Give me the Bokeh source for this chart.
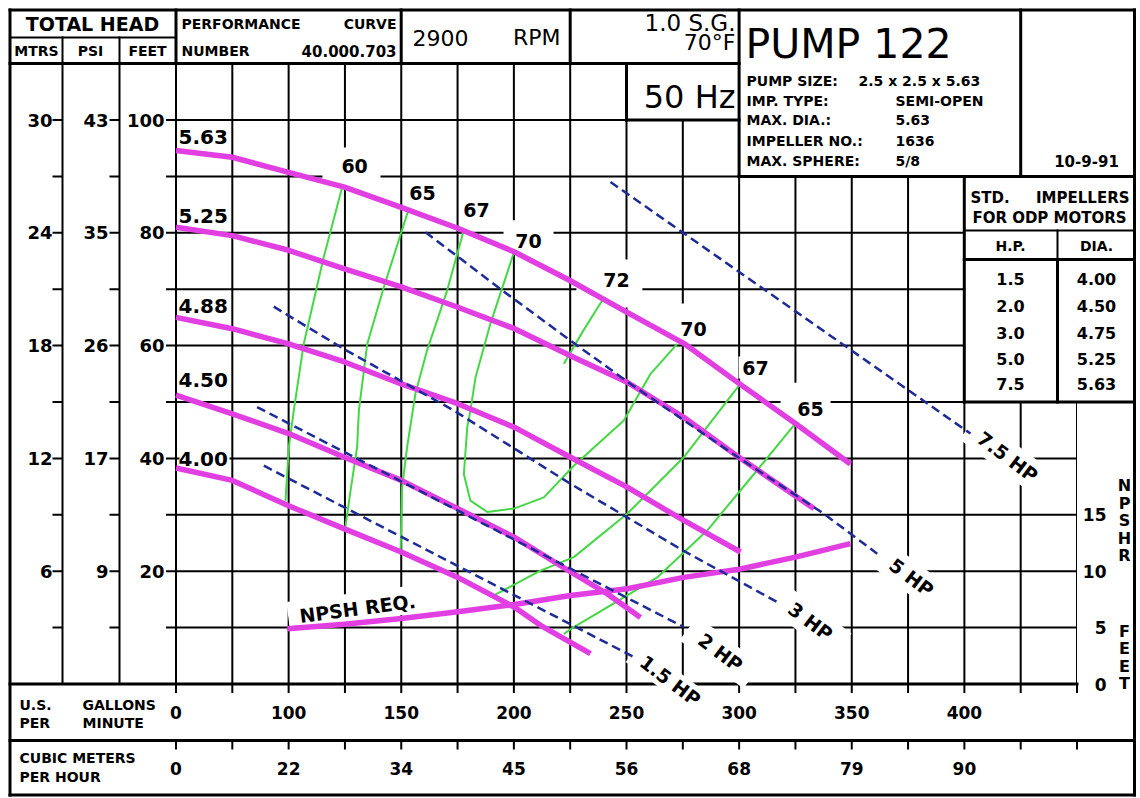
from bokeh.plotting import figure
from bokeh.models import Range1d, ColumnDataSource
from bokeh.core.properties import value
from bokeh.embed import file_html
from bokeh.resources import INLINE

# ---------------- chart data ----------------
# x = flow in grid units (one grid cell = 25); the sheet prints these labels
gpm_tick_pos = [0, 50, 100, 150, 200, 250, 300, 350]
gpm_tick_labels = ["0", "100", "150", "200", "250", "300", "350", "400"]
m3h_tick_labels = ["0", "22", "34", "45", "56", "68", "79", "90"]

head_ticks_ft = [20, 40, 60, 80, 100]
head_labels_ft = ["20", "40", "60", "80", "100"]
head_labels_m = ["6", "12", "18", "24", "30"]
head_labels_psi = ["9", "17", "26", "35", "43"]

npsh_ticks = [0, 5, 10, 15]
npsh_labels = ["0", "5", "10", "15"]

# impeller curves: head in feet
imp_563_x = [0, 25, 50, 74.8, 100, 125.1, 150.3, 175.1, 200.3, 225.4, 249.9, 275.0, 299.4]
imp_563_h = [94.6, 93.4, 90.7, 88.1, 84.5, 80.8, 76.6, 71.5, 65.9, 60.4, 53.3, 46.2, 39.0]
imp_525_x = [0, 25, 50, 74.8, 100, 125.1, 150.3, 175.1, 200.3, 225.4, 249.9, 283.2]
imp_525_h = [81.0, 79.5, 76.9, 73.6, 70.4, 66.8, 63.0, 58.2, 53.5, 47.3, 40.2, 31.1]
imp_488_x = [0, 25, 50, 74.8, 100, 125.1, 150.3, 175.1, 200.3, 225.4, 250.6]
imp_488_h = [65.0, 63.0, 60.3, 57.1, 53.2, 49.7, 45.5, 40.2, 34.9, 29.0, 23.4]
imp_450_x = [0, 25, 50, 74.8, 100, 125.1, 150.3, 175.1, 191.4, 206.2]
imp_450_h = [51.2, 47.9, 44.4, 40.2, 36.1, 31.1, 26.0, 19.9, 16.0, 11.8]
imp_400_x = [0, 25, 50, 74.8, 100, 125.1, 150.3, 161.8, 184.0]
imp_400_h = [38.3, 36.1, 31.6, 27.5, 23.4, 18.9, 13.6, 10.4, 5.4]
imp_names = ["5.63", "5.25", "4.88", "4.50", "4.00"]
imp_label_x = [1.1, 1.1, 1.1, 1.1, 1.1]
imp_label_y = [96.9, 83.0, 67.1, 53.9, 39.9]

# NPSH required (feet, right scale)
npsh_x = [49.4, 74.8, 100, 125.1, 150.3, 175.1, 200.3, 225.4, 250.6, 275.0, 299.4]
npsh_req = [4.9, 5.3, 5.8, 6.4, 7.05, 7.85, 8.45, 9.45, 10.2, 11.25, 12.45]

# iso-efficiency lines (%)
eff60_x = [73.8, 65.6, 56.7, 52.3, 50.1, 48.6]
eff60_h = [88.1, 75.7, 60.3, 48.5, 42.0, 32.5]
eff65a_x = [102.9, 92.3, 84.9, 81.2, 80.4, 77.5, 75.2]
eff65a_h = [83.7, 70.4, 60.3, 48.5, 42.0, 34.3, 27.8]
eff67a_x = [127.5, 120.4, 111.5, 106.3, 102.6, 100.4, 99.7]
eff67a_h = [80.1, 69.8, 59.2, 51.5, 42.0, 34.9, 23.6]
eff70_x = [150.0, 139.6, 133.0, 130.7, 129.3, 127.8, 130.7, 138.2, 150.0, 163.3, 176.6, 198.8, 210.7, 222.5]
eff70_h = [76.5, 63.9, 54.4, 48.5, 45.5, 37.2, 32.5, 30.5, 31.1, 33.1, 38.7, 46.7, 55.0, 60.3]
eff72_x = [189.2, 180.9, 172.2]
eff72_h = [68.0, 62.7, 56.8]
eff67b_x = [249.9, 225.4, 210.7, 200.3, 176.6, 161.8, 139.6]
eff67b_h = [52.9, 40.2, 34.3, 30.2, 22.5, 20.1, 15.4]
eff65b_x = [275.0, 258.0, 235.8, 213.6, 191.4, 176.6, 172.2]
eff65b_h = [46.2, 37.9, 27.2, 18.9, 13.6, 10.1, 8.9]
eff_labels = ["60", "65", "67", "70", "72", "70", "67", "65"]
eff_label_x = [79.3, 109.4, 133.4, 156.5, 195.6, 229.7, 257.3, 281.7]
eff_label_y = [91.8, 87.0, 84.0, 78.5, 71.7, 63.0, 56.1, 48.7]

# motor horsepower limit lines
hp75_x = [192.9, 352.7]
hp75_h = [89.0, 44.4]
hp5_x = [110.8, 144.8, 175.1, 201.8, 250.6, 287.6, 311.3]
hp5_h = [80.1, 69.8, 60.9, 53.2, 39.9, 30.2, 23.1]
hp3_x = [43.4, 74.5, 123.3, 175.1, 225.4, 268.4]
hp3_h = [66.9, 59.4, 48.5, 35.5, 23.6, 14.2]
hp2_x = [36.0, 225.4]
hp2_h = [49.1, 10.1]
hp15_x = [39.0, 203.2]
hp15_h = [38.7, 4.8]
hp_labels = ["7.5 HP", "5 HP", "3 HP", "2 HP", "1.5 HP"]
hp_label_x = [369.2, 326.5, 281.7, 241.7, 219.5]
hp_label_y = [40.3, 18.9, 11.1, 5.6, 0.6]

std_hp = ["1.5", "2.0", "3.0", "5.0", "7.5"]
std_dia = ["4.00", "4.50", "4.75", "5.25", "5.63"]

pump_keys = ["IMP. TYPE:", "MAX. DIA.:", "IMPELLER NO.:", "MAX. SPHERE:"]
pump_vals = ["SEMI-OPEN", "5.63", "1636", "5/8"]

# ---------------- styles / layout ----------------
MAG = "#e23fe2"
GRN = "#45d845"
BLU = "#1d2b96"
FONT = "DejaVu Sans"

X0, SX = 175.5, 2.2525   # sheet pixel of flow 0, pixels per flow unit
Y0, SY = 683.5, 5.64     # sheet pixel of 0 ft, pixels per foot
RB, BB = 1134, 794.5     # right / bottom border of the sheet


def X(px):
    return (px - X0) / SX


def Y(py):
    return (Y0 - py) / SY


W, H = 1140, 798
p = figure(width=W, height=H,
           x_range=Range1d(X(0), X(W)), y_range=Range1d(Y(H), Y(0)),
           output_backend="svg", toolbar_location=None, min_border=0,
           x_axis_type=None, y_axis_type=None, title=None,
           background_fill_color="white", border_fill_color="white")
p.outline_line_color = None
p.extra_y_ranges = {"npsh": Range1d(Y(H) / 2, Y(0) / 2)}

# grid
grid_x = [25 * k for k in range(17)]
p.segment(x0=grid_x, y0=[0] * 17, x1=grid_x, y1=[110] * 17, line_color="black", line_width=2)
grid_y = [10 * k for k in range(1, 12)]
p.segment(x0=[0] * 11, y0=grid_y, x1=[400] * 11, y1=grid_y, line_color="black", line_width=2)

# white panels covering the grid
covers = [(626, 738.6, 63.1, 119.5), (738.6, RB, 9.5, 175.9),
          (963.8, RB, 175.9, 401.5), (1076.5, RB, 401.5, 683.5)]
p.quad(left=[X(c[0]) for c in covers], right=[X(c[1]) for c in covers],
       top=[Y(c[2]) for c in covers], bottom=[Y(c[3]) for c in covers],
       fill_color="white", line_color=None)


def segs(lines, width):
    p.segment(x0=[X(a) for a, b, c, d in lines], y0=[Y(b) for a, b, c, d in lines],
              x1=[X(c) for a, b, c, d in lines], y1=[Y(d) for a, b, c, d in lines],
              line_color="black", line_width=width, line_cap="square")


thick = [
    (9.5, 9.5, RB, 9.5), (9.5, BB, RB, BB),
    (9.5, 9.5, 9.5, BB), (RB, 9.5, RB, BB),
    (9.5, 63.1, 738.6, 63.1),
    (175.5, 9.5, 175.5, 63.1), (400.7, 9.5, 400.7, 63.1), (569.7, 9.5, 569.7, 63.1),
    (626, 63.1, 626, 119.5), (626, 119.5, 738.6, 119.5),
    (738.6, 9.5, 738.6, 175.9), (738.6, 175.9, RB, 175.9),
    (1020.2, 9.5, 1020.2, 175.9),
    (963.8, 175.9, 963.8, 401.5), (963.8, 401.5, RB, 401.5),
    (963.8, 259, RB, 259), (1057, 259, 1057, 401.5),
    (9.5, 683.5, 1076.5, 683.5), (9.5, 740, RB, 740),
]
segs(thick, 3)
thin = [(9.5, 37, 175.5, 37), (62, 37, 62, 683.5), (119, 37, 119, 683.5),
        (963.8, 230, RB, 230), (1057, 230, 1057, 259)]
segs(thin, 2)

# tick marks on the head columns and flow rows
tick_x0, tick_y0, tick_x1, tick_y1 = [], [], [], []
for col in (62, 119, 175.5):
    for ft in range(10, 110, 10):
        tick_x0.append(X(col - 10)); tick_x1.append(X(col))
        tick_y0.append(ft); tick_y1.append(ft)
for k in range(17):
    for top in (683.5, 740):
        tick_x0.append(25 * k); tick_x1.append(25 * k)
        tick_y0.append(Y(top)); tick_y1.append(Y(top + 9))
p.segment(x0=tick_x0, y0=tick_y0, x1=tick_x1, y1=tick_y1, line_color="black", line_width=2)

# white boxes behind labels
box_x = [X(204)] * 5 + [77.9, 109.4, 133.4, 156.5, 192.4, 228.4, 257.3, 279.5] + hp_label_x + [80.6]
box_y = imp_label_y + [91.6, 87.0, 84.0, 79.3, 71.0, 63.9, 56.1, 49.7] + hp_label_y + [13.7]
box_w = [50] * 5 + [58, 34, 34, 50, 66, 44, 34, 50] + [98, 80, 80, 80, 94] + [140]
box_h = [22] * 5 + [40, 22, 22, 33, 48, 40, 22, 42] + [30, 30, 30, 30, 24] + [28]
box_a = [0] * 13 + [-0.646] * 5 + [0.13]
p.rect(x=box_x, y=box_y, width=box_w, height=box_h, angle=box_a,
       width_units="screen", height_units="screen", fill_color="white", line_color=None)

# efficiency lines
for ex, eh in [(eff60_x, eff60_h), (eff65a_x, eff65a_h), (eff67a_x, eff67a_h), (eff70_x, eff70_h),
               (eff72_x, eff72_h), (eff67b_x, eff67b_h), (eff65b_x, eff65b_h)]:
    p.line(ex, eh, line_color=GRN, line_width=2, line_join="round")

# impeller curves
for ix, ih in [(imp_563_x, imp_563_h), (imp_525_x, imp_525_h), (imp_488_x, imp_488_h),
               (imp_450_x, imp_450_h), (imp_400_x, imp_400_h)]:
    p.line(ix, ih, line_color=MAG, line_width=5.5, line_join="round")
p.line(npsh_x, npsh_req, y_range_name="npsh", line_color=MAG, line_width=5.5, line_join="round")

# horsepower lines
for hx, hh in [(hp75_x, hp75_h), (hp5_x, hp5_h), (hp3_x, hp3_h), (hp2_x, hp2_h), (hp15_x, hp15_h)]:
    p.line(hx, hh, line_color=BLU, line_width=2.5, line_dash="9 5")


def txt(xs, ys, texts, size, align="center", style="bold", angle=0.0, y_range_name="default"):
    src = ColumnDataSource(dict(x=list(xs), y=list(ys), t=list(texts)))
    p.text(x="x", y="y", text="t", source=src, text_font=value(FONT), text_font_size=f"{size}px",
           text_font_style=style, text_align=align, text_baseline="middle", angle=angle,
           text_color="black", y_range_name=y_range_name)


def ptxt(pxs, pys, texts, size, align="center", style="bold"):
    txt([X(a) for a in pxs], [Y(b) for b in pys], texts, size, align, style)


# curve and line labels
txt(imp_label_x, imp_label_y, imp_names, 20, align="left")
txt(eff_label_x, eff_label_y, eff_labels, 19)
for lx, ly, lt in zip(hp_label_x, hp_label_y, hp_labels):
    txt([lx], [ly], [lt], 19, angle=-0.646)
txt([80.6], [13.4], ["NPSH REQ."], 19, angle=0.13)

# head axis labels
txt([X(52)] * 5, head_ticks_ft, head_labels_m, 18, align="right")
txt([X(108)] * 5, head_ticks_ft, head_labels_psi, 18, align="right")
txt([X(164)] * 5, head_ticks_ft, head_labels_ft, 18, align="right")

# flow axis labels
txt(gpm_tick_pos, [Y(712)] * len(gpm_tick_pos), gpm_tick_labels, 17)
txt(gpm_tick_pos, [Y(768)] * len(gpm_tick_pos), m3h_tick_labels, 17)

# NPSHR axis labels
txt([X(1106)] * 4, npsh_ticks, npsh_labels, 17, align="right", y_range_name="npsh")
ptxt([1124] * 5, [485, 503, 520, 538, 555], list("NPSHR"), 16)
ptxt([1124] * 4, [631, 648, 666, 683], list("FEET"), 16)

# header
ptxt([92], [23], ["TOTAL HEAD"], 19)
ptxt([36, 90, 147], [50, 50, 50], ["MTRS", "PSI", "FEET"], 14)
ptxt([181], [23], ["PERFORMANCE"], 14, align="left")
ptxt([396], [23], ["CURVE"], 14, align="right")
ptxt([181], [50], ["NUMBER"], 14, align="left")
ptxt([396], [50], ["40.000.703"], 15, align="right")
ptxt([412], [37], ["2900"], 22, align="left", style="normal")
ptxt([560], [37], ["RPM"], 22, align="right", style="normal")
ptxt([735], [22], ["1.0 S.G."], 23, align="right", style="normal")
ptxt([735], [42], ["70°F"], 22, align="right", style="normal")
ptxt([735], [96], ["50 Hz"], 32, align="right", style="normal")
ptxt([745], [43], ["PUMP 122"], 41, align="left", style="normal")
ptxt([746], [80], ["PUMP SIZE:"], 14, align="left")
ptxt([858], [80], ["2.5 x 2.5 x 5.63"], 14, align="left")
ptxt([746] * 4, [100, 119, 140, 160], pump_keys, 14, align="left")
ptxt([895] * 4, [100, 119, 140, 160], pump_vals, 14, align="left")
ptxt([1086], [160], ["10-9-91"], 15)

# impeller table
ptxt([970], [197], ["STD."], 15, align="left")
ptxt([1129], [197], ["IMPELLERS"], 15, align="right")
ptxt([1049], [217], ["FOR ODP MOTORS"], 15)
ptxt([1010, 1096], [245, 245], ["H.P.", "DIA."], 14)
rows_y = [278, 305, 332, 358, 383]
ptxt([1010] * 5, rows_y, std_hp, 16)
ptxt([1096] * 5, rows_y, std_dia, 16)

# flow row titles
ptxt([19, 82], [704, 704], ["U.S.", "GALLONS"], 14, align="left")
ptxt([19, 82], [722, 722], ["PER", "MINUTE"], 14, align="left")
ptxt([19], [757], ["CUBIC METERS"], 14, align="left")
ptxt([19], [776], ["PER HOUR"], 14, align="left")

open("out.html", "w", encoding="utf-8").write(file_html(p, INLINE))
